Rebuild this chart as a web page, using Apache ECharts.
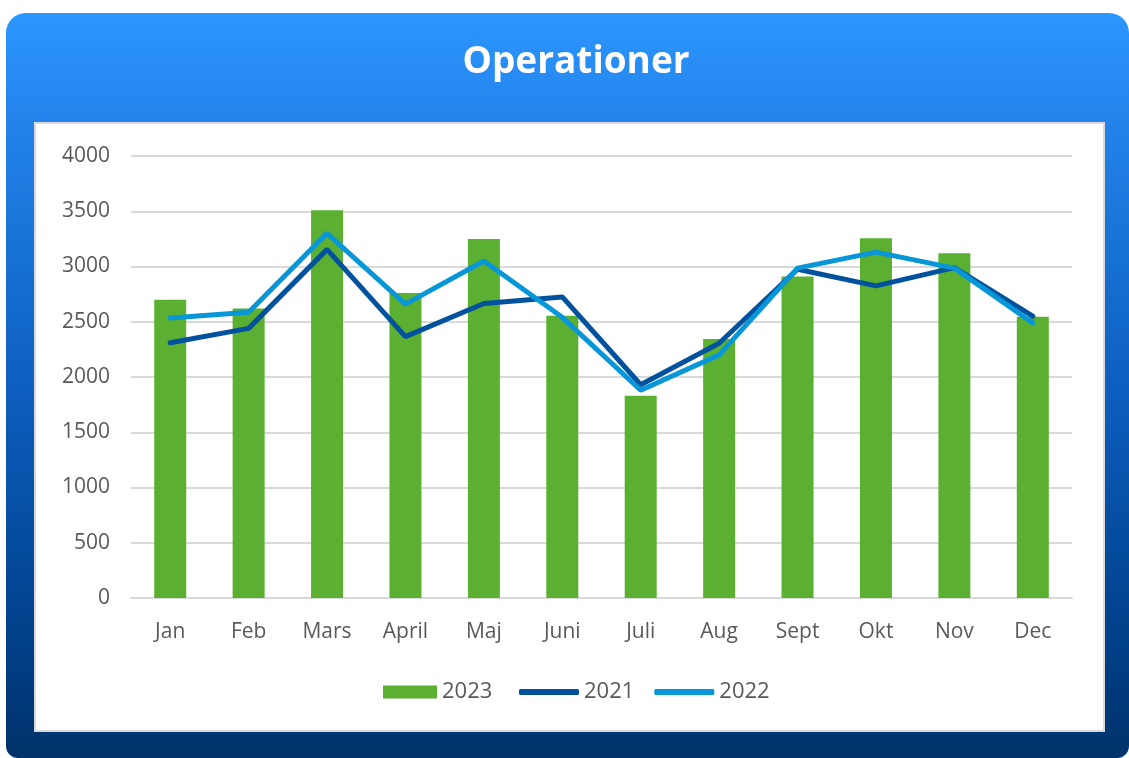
<!DOCTYPE html>
<html>
<head>
<meta charset="utf-8">
<title>Operationer</title>
<script src="https://cdn.jsdelivr.net/npm/echarts@6/dist/echarts.min.js"></script>
<style>
  html, body { margin: 0; padding: 0; background: #ffffff; }
  #chart { width: 1129px; height: 758px; }
</style>
</head>
<body>
<div id="chart"></div>
<script>
// values
const months = ['Jan', 'Feb', 'Mars', 'April', 'Maj', 'Juni', 'Juli', 'Aug', 'Sept', 'Okt', 'Nov', 'Dec']
const ops2023 = [2700, 2620, 3510, 2760, 3250, 2555, 1830, 2345, 2910, 3255, 3120, 2545]
const ops2021 = [2310, 2440, 3155, 2365, 2665, 2725, 1930, 2305, 2975, 2825, 2990, 2550]
const ops2022 = [2535, 2585, 3300, 2660, 3050, 2540, 1880, 2200, 2985, 3130, 2985, 2490]
const yTicks = { min: 0, max: 4000, interval: 500 }

const labelColor = '#595959'
const font = '"Open Sans", "Noto Sans", sans-serif'
const legendText = { color: labelColor, fontFamily: font, fontSize: 22 }

let chart = echarts.init(document.getElementById('chart'), null, { renderer: 'canvas' })

chart.setOption({
    animation: false,
    backgroundColor: '#ffffff',
    graphic: [
        {
            // blue panel behind everything
            type: 'rect',
            z: -10,
            shape: { x: 6, y: 13, width: 1123, height: 745, r: [20, 20, 12, 12] },
            style: {
                fill: new echarts.graphic.LinearGradient(0, 0, 0, 1, [
                    { offset: 0, color: '#2c96ff' },
                    { offset: 0.15, color: '#2283ea' },
                    { offset: 0.5, color: '#0d5fc0' },
                    { offset: 0.85, color: '#003f88' },
                    { offset: 1, color: '#00336a' }
                ])
            }
        },
        {
            // white inner box
            type: 'rect',
            z: -9,
            shape: { x: 35, y: 123, width: 1069, height: 608 },
            style: { fill: '#ffffff', stroke: '#d9d9d9', lineWidth: 2 }
        }
    ],
    title: {
        text: 'Operationer',
        left: 571,
        textAlign: 'center',
        top: 39,
        textStyle: { color: '#ffffff', fontFamily: font, fontWeight: 'bold', fontSize: 37 }
    },
    legend: [
        {
            data: ['2023'],
            top: 676,
            left: 378,
            itemWidth: 54,
            itemHeight: 13,
            icon: 'rect',
            textStyle: legendText
        },
        {
            data: ['2021', '2022'],
            top: 676,
            left: 514,
            itemWidth: 60,
            itemHeight: 6,
            itemGap: 20,
            icon: 'roundRect',
            textStyle: legendText
        }
    ],
    grid: { left: 131, right: 57, top: 156, bottom: 160 },
    xAxis: {
        type: 'category',
        data: months,
        axisLine: { lineStyle: { color: '#d9d9d9', width: 2 } },
        axisTick: { show: false },
        axisLabel: { color: labelColor, fontFamily: font, fontSize: 21, margin: 24 }
    },
    yAxis: {
        type: 'value',
        min: yTicks.min,
        max: yTicks.max,
        interval: yTicks.interval,
        axisLine: { show: false },
        axisTick: { show: false },
        axisLabel: {
            color: labelColor, fontFamily: font, fontSize: 21, margin: 21,
            formatter: v => String(v)
        },
        splitLine: { lineStyle: { color: '#d9d9d9', width: 2 } }
    },
    series: [
        {
            name: '2023',
            type: 'bar',
            data: ops2023,
            barWidth: 32,
            itemStyle: { color: '#5bb032' }
        },
        {
            name: '2021',
            type: 'line',
            data: ops2021,
            symbol: 'none',
            lineStyle: { color: '#00529e', width: 5, cap: 'round' },
            itemStyle: { color: '#00529e' }
        },
        {
            name: '2022',
            type: 'line',
            data: ops2022,
            symbol: 'none',
            lineStyle: { color: '#0796d8', width: 5, cap: 'round' },
            itemStyle: { color: '#0796d8' }
        }
    ]
})
</script>
</body>
</html>
